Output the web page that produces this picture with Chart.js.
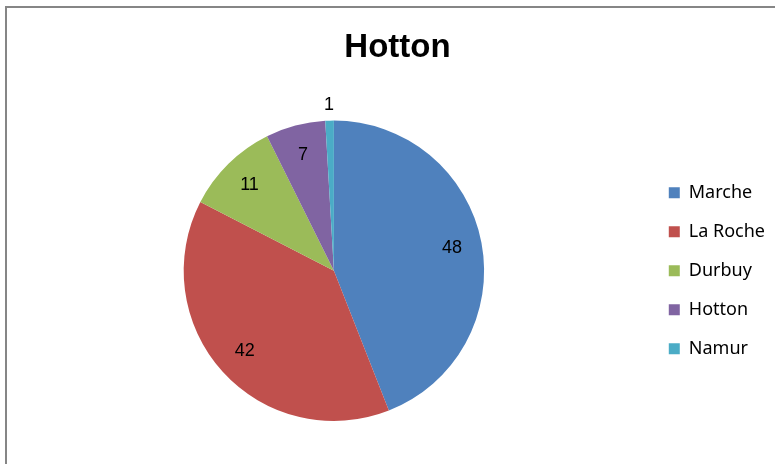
<!DOCTYPE html>
<html>
<head>
<meta charset="utf-8">
<script src="https://cdn.jsdelivr.net/npm/chart.js@4"></script>
<style>
  body { margin: 0; overflow: hidden; background: #fff; }
  #frame { position: absolute; left: 5px; top: 6px; width: 820px; height: 500px; border: 2px solid #868686; }
  #wrap { position: absolute; left: 0; top: 0; width: 775px; height: 464px; }
</style>
</head>
<body>
<div id="frame"></div>
<div id="wrap"><canvas id="pieChart" width="775" height="464"></canvas></div>
<script>
// Data
const towns = ['Marche', 'La Roche', 'Durbuy', 'Hotton', 'Namur'];
const counts = [48, 42, 11, 7, 1];
const sliceColors = ['#4F81BD', '#C0504D', '#9BBB59', '#8064A2', '#4BACC6'];

// Simple value labels: inside the slice, small ones pushed outside
const valueLabels = {
    id: 'valueLabels',
    afterDatasetsDraw(chart) {
        const ctx = chart.ctx;
        const meta = chart.getDatasetMeta(0);
        ctx.save();
        ctx.font = '18px "Liberation Sans", Arial, sans-serif';
        ctx.fillStyle = '#000';
        ctx.textAlign = 'center';
        ctx.textBaseline = 'middle';
        meta.data.forEach((arc, i) => {
            const p = arc.getProps(['x', 'y', 'startAngle', 'endAngle', 'outerRadius'], true);
            const mid = (p.startAngle + p.endAngle) / 2;
            const share = counts[i] / counts.reduce((a, b) => a + b, 0);
            const r = share < 0.03 ? p.outerRadius + 16 : p.outerRadius * 0.8;
            ctx.fillText(String(counts[i]), p.x + Math.cos(mid) * r, p.y + Math.sin(mid) * r);
        });
        ctx.restore();
    }
};

const ctx = document.getElementById('pieChart').getContext('2d');
const chart = new Chart(ctx, {
    type: 'pie',
    data: {
        labels: towns,
        datasets: [{
            data: counts,
            backgroundColor: sliceColors,
            borderWidth: 0
        }]
    },
    options: {
        responsive: false,
        animation: false,
        layout: {
            padding: { left: 20, right: 0, top: 0, bottom: 43 }
        },
        plugins: {
            title: {
                display: true,
                text: 'Hotton',
                color: '#000',
                font: { family: '"Liberation Sans", Arial, sans-serif', size: 33, weight: 'bold' },
                padding: { top: 28, bottom: 53 }
            },
            legend: {
                position: 'right',
                fullSize: false,
                labels: {
                    color: '#000',
                    boxWidth: 11,
                    boxHeight: 11,
                    padding: 21,
                    font: { family: '"Noto Sans", sans-serif', size: 18 }
                }
            },
            tooltip: { enabled: false }
        }
    },
    plugins: [valueLabels]
});
</script>
</body>
</html>
